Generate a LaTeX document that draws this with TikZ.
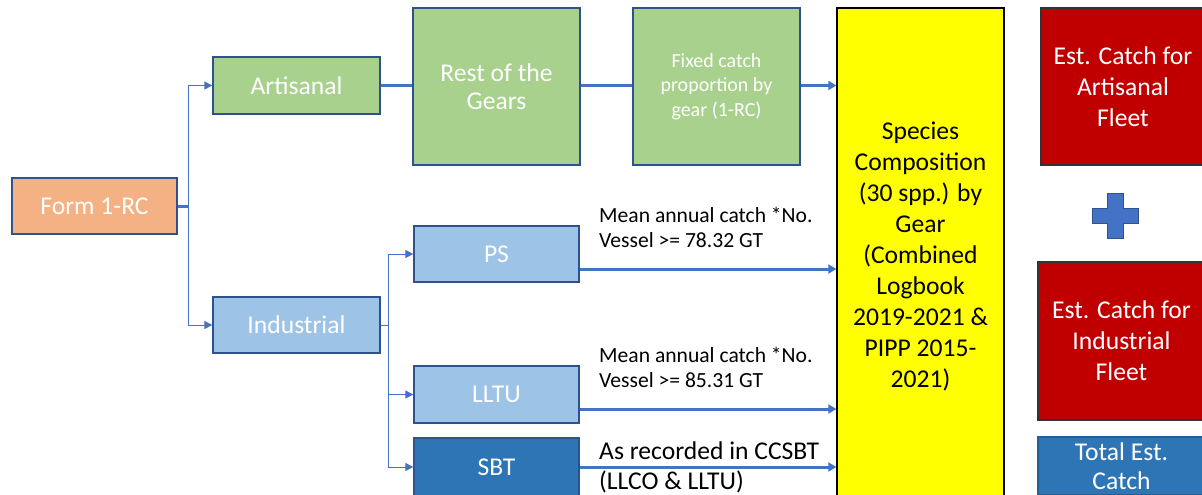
\documentclass[tikz,border=0pt]{standalone}
\usepackage{fontspec}
\setmainfont{Carlito}
\usetikzlibrary{arrows.meta}
\definecolor{cOrange}{HTML}{F4B183}
\definecolor{cGreen}{HTML}{A9D18E}
\definecolor{cLBlue}{HTML}{9DC3E6}
\definecolor{cDBlue}{HTML}{2E75B6}
\definecolor{cRed}{HTML}{C00000}
\definecolor{cYellow}{HTML}{FFFF00}
\definecolor{cLine}{HTML}{4472C4}
\definecolor{cEdge}{HTML}{2F528F}
\tikzset{
  box/.style={draw=cEdge, line width=1.3pt, rectangle, inner sep=2pt, align=center,
    text=white, font=\fontsize{25.6}{31}\selectfont},
  smallbox/.style={box, font=\fontsize{20}{24.5}\selectfont},
  thinline/.style={draw=cLine, line width=1pt},
  thinarrow/.style={thinline, -{Triangle[length=8pt,width=8pt]}},
  thickline/.style={draw=cLine, line width=3pt},
  thickarrow/.style={thickline, -{Triangle[length=8pt,width=9pt]}},
  lbl/.style={inner sep=0pt, align=left, anchor=west, text=black},
}
\begin{document}
\begin{tikzpicture}[x=1pt,y=-1pt]
\useasboundingbox (0,0) rectangle (1202,495);
\clip (0,0) rectangle (1202,495);
% boxes
\node[box, fill=cOrange, minimum width=165pt, minimum height=56pt] (form) at (94.5,206) {Form 1-RC};
\node[box, fill=cGreen, minimum width=167pt, minimum height=57pt] (art) at (296.5,85.5) {Artisanal};
\node[box, fill=cLBlue, minimum width=167pt, minimum height=56pt] (ind) at (296.5,325) {Industrial};
\node[box, fill=cGreen, minimum width=167pt, minimum height=157pt, font=\fontsize{25.6}{28}\selectfont] (rest) at (496.5,86.5) {Rest of the\\Gears};
\node[smallbox, fill=cGreen, minimum width=167pt, minimum height=157pt] (fixed) at (716.5,86.5) {Fixed catch\\proportion by\\gear (1-RC)};
\node[box, fill=cYellow, draw=black, text=black, minimum width=167pt, minimum height=497pt] (spec) at (920.5,256.5) {Species\\Composition\\(30 spp.) by\\Gear\\(Combined\\Logbook\\2019-2021 \&\\PIPP 2015-\\2021)};
\node[box, fill=cLBlue, minimum width=165pt, minimum height=56pt] (ps) at (496.5,254) {PS};
\node[box, fill=cLBlue, minimum width=165pt, minimum height=57pt] (lltu) at (496.5,394.5) {LLTU};
\node[box, fill=cDBlue, minimum width=165pt, minimum height=58pt] (sbt) at (496.5,467) {SBT};
\node[box, fill=cDBlue, draw=cDBlue!80!black, minimum width=167pt, minimum height=58pt, font=\fontsize{25.6}{29}\selectfont] (total) at (1121.5,466) {Total Est.\\Catch};
\node[box, fill=cRed, draw=black!80, minimum width=164pt, minimum height=157pt] (redA) at (1123,86.5) {Est. Catch for\\Artisanal\\Fleet};
\node[box, fill=cRed, draw=black!80, minimum width=167pt, minimum height=158pt] (redI) at (1121.5,341) {Est. Catch for\\Industrial\\Fleet};
% plus sign
\fill[cLine, draw=cEdge, line width=1pt] (1107,193) -- (1123,193) -- (1123,208) -- (1138,208) -- (1138,223) -- (1123,223) -- (1123,238) -- (1107,238) -- (1107,223) -- (1092,223) -- (1092,208) -- (1107,208) -- cycle;
% connectors
\coordinate (s1) at (188,206);
\draw[thickline] (form.east) -- (s1);
\draw[thinarrow] (s1) |- (art.west);
\draw[thinarrow] (s1) |- (ind.west);
\coordinate (s2) at (388,325);
\draw[thinline] (ind.east) -- (s2);
\draw[thinarrow] (s2) |- (ps.west);
\draw[thinarrow] (s2) |- (lltu.west);
\draw[thinarrow] (s2) |- (sbt.west);
\draw[thickline] (art.east) -- (rest.west |- art.east);
\draw[thickline] (rest.east |- art.east) -- (fixed.west |- art.east);
\draw[thickarrow] (fixed.east |- art.east) -- (spec.west |- art.east);
\coordinate (p1) at ([yshift=-15pt]ps.east);
\draw[thickarrow] (p1) -- (spec.west |- p1);
\coordinate (p2) at ([yshift=-14.5pt]lltu.east);
\draw[thickarrow] (p2) -- (spec.west |- p2);
\coordinate (p3) at (sbt.east);
\draw[thickarrow] (p3) -- (spec.west |- p3);
% labels
\node[lbl, font=\fontsize{21.6}{25}\selectfont] (l1) at (599,227.5) {Mean annual catch *No.\\Vessel >= 78.32 GT};
\node[lbl, font=\fontsize{21.6}{25}\selectfont] (l2) at (599,367) {Mean annual catch *No.\\Vessel >= 85.31 GT};
\node[lbl, font=\fontsize{25.6}{30}\selectfont] (l3) at (599,467) {As recorded in CCSBT\\(LLCO \& LLTU)};
\end{tikzpicture}
\end{document}
